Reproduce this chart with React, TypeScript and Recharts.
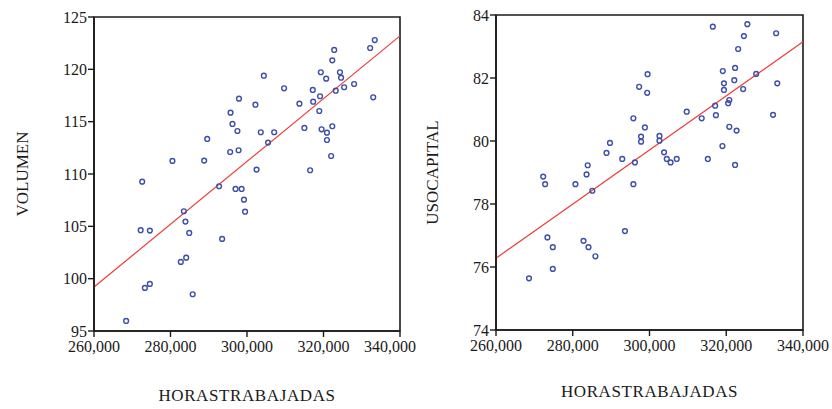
import { ScatterChart, Scatter, XAxis, YAxis, ReferenceLine, ReferenceArea } from "recharts";

// horas trabajadas vs volumen (left panel)
const horasVol = [
  297900, 295700, 296200, 297500, 289600, 295600, 297800, 280500, 288800, 333400,
  332200, 322800, 322300, 319300, 320700, 324300, 324600, 304400, 328000, 325400,
  323200, 309700, 317200, 319100, 317300, 313700, 333000, 302200, 318900, 303600,
  307100, 305500, 315000, 319500, 320900, 322300, 320900, 322000, 302500, 316500,
  272600, 292700, 297000, 298600, 299200, 299500, 283500, 283900, 284900, 272200,
  274600, 293500, 282700, 284100, 273300, 274600, 285800, 268400
];
const volumen = [
  117.2, 115.86, 114.78, 114.11, 113.35, 112.1, 112.27, 111.25, 111.28, 122.8,
  122.04, 121.85, 120.86, 119.72, 119.11, 119.72, 119.2, 119.39, 118.6, 118.29,
  117.96, 118.19, 118.03, 117.43, 116.91, 116.72, 117.33, 116.62, 116.02, 113.99,
  113.99, 113.0, 114.4, 114.27, 113.95, 114.56, 113.25, 111.72, 110.42, 110.36,
  109.27, 108.83, 108.57, 108.57, 107.55, 106.4, 106.44, 105.45, 104.37, 104.63,
  104.59, 103.8, 101.6, 102.01, 99.12, 99.5, 98.51, 95.96
];

// horas trabajadas vs uso de capital (right panel)
const horasCap = [
  299500, 297300, 299400, 295800, 298800, 297800, 297800, 289700, 288800, 292900,
  296200, 283900, 283600, 272300, 316500, 325500, 324600, 333000, 323100, 319100,
  322300, 322100, 327800, 319400, 319400, 324400, 333300, 320800, 320500, 317100,
  309700, 313600, 317300, 332200, 320800, 322700, 302600, 302600, 319000, 303800,
  304500, 305500, 307100, 315200, 322300, 272800, 280700, 285100, 295800, 273400,
  274800, 282800, 284100, 285900, 293600, 274800, 268600
];
const usoCapital = [
  82.12, 81.72, 81.53, 80.72, 80.43, 80.14, 79.98, 79.94, 79.62, 79.43,
  79.32, 79.23, 78.94, 78.87, 83.63, 83.71, 83.33, 83.42, 82.92, 82.22,
  82.32, 81.93, 82.13, 81.83, 81.62, 81.65, 81.83, 81.3, 81.2, 81.12,
  80.93, 80.72, 80.82, 80.83, 80.45, 80.33, 80.16, 80.01, 79.84, 79.64,
  79.43, 79.32, 79.43, 79.43, 79.24, 78.63, 78.63, 78.42, 78.63, 76.94,
  76.63, 76.83, 76.63, 76.34, 77.14, 75.94, 75.64
];

const xTicks = [260000, 280000, 300000, 320000, 340000];
const volTicks = [95, 100, 105, 110, 115, 120, 125];
const capTicks = [74, 76, 78, 80, 82, 84];

// fitted line ends at 260,000 and 340,000
const fitVol = [99.2, 123.2];
const fitCap = [76.28, 83.15];

const FONT = "'Liberation Serif', 'Times New Roman', serif";
const INK = "#1a1a1a";
const BLUE = "#3d4fa8";
const RED = "#ee3b36";

const toPoints = (xs: number[], ys: number[]) => xs.map((x, i) => ({ x, y: ys[i] }));

const Marker = (p: any) => (
  <circle cx={p.cx} cy={p.cy} r={2.4} fill="none" stroke={BLUE} strokeWidth={1.4} />
);

const VTitle = ({ viewBox, text, posX }: any) => {
  const cy = viewBox.y + viewBox.height / 2;
  return (
    <text x={posX} y={cy} transform={`rotate(-90 ${posX} ${cy})`} textAnchor="middle"
      dominantBaseline="central" fontFamily={FONT} fontSize={17} fill={INK}>
      {text}
    </text>
  );
};

const HTitle = ({ viewBox, text, dy }: any) => {
  const cx = viewBox.x + viewBox.width / 2;
  return (
    <text x={cx} y={viewBox.y + dy} textAnchor="middle" fontFamily={FONT}
      fontSize={17} letterSpacing={0.6} fill={INK}>
      {text}
    </text>
  );
};

const xTickStyle = { fontFamily: FONT, fontSize: 16, fill: INK };
const yTickStyle = { fontFamily: FONT, fontSize: 16, fill: INK };

function Panel(props: {
  xs: number[]; ys: number[]; yTicks: number[]; fit: number[];
  yTitle: string; yTitleX: number; yWidth: number; top: number; right: number;
  xHeight: number; titleDy: number;
}) {
  const data = toPoints(props.xs, props.ys);
  const yMin = props.yTicks[0];
  const yMax = props.yTicks[props.yTicks.length - 1];
  return (
    <ScatterChart width={416} height={409}
      margin={{ top: props.top, right: props.right, bottom: 0, left: 0 }}>
      <XAxis type="number" dataKey="x" domain={[260000, 340000]} ticks={xTicks}
        tickFormatter={(v: number) => v.toLocaleString("en-US")}
        tick={xTickStyle} tickSize={6} tickMargin={4} height={props.xHeight}
        axisLine={{ stroke: INK, strokeWidth: 1.6 }} tickLine={{ stroke: INK, strokeWidth: 1.4 }}
        label={<HTitle text="HORASTRABAJADAS" dy={props.titleDy} />} />
      <YAxis type="number" dataKey="y" domain={[yMin, yMax]} ticks={props.yTicks}
        tick={yTickStyle} tickSize={6} tickMargin={1} width={props.yWidth}
        axisLine={{ stroke: INK, strokeWidth: 1.6 }} tickLine={{ stroke: INK, strokeWidth: 1.4 }}
        label={<VTitle text={props.yTitle} posX={props.yTitleX} />} />
      <ReferenceArea x1={260000} x2={340000} y1={yMin} y2={yMax}
        fill="none" stroke={INK} strokeWidth={1.6} />
      <ReferenceLine segment={[{ x: 260000, y: props.fit[0] }, { x: 340000, y: props.fit[1] }]}
        stroke={RED} strokeWidth={1.2} />
      <Scatter data={data} shape={Marker} isAnimationActive={false} />
    </ScatterChart>
  );
}

export default function App() {
  return (
    <div style={{ position: "absolute", left: 0, top: 0, width: 832, height: 409, background: "#fff", display: "flex" }}>
      <Panel xs={horasVol} ys={volumen} yTicks={volTicks} fit={fitVol}
        yTitle="VOLUMEN" yTitleX={22} yWidth={94} top={17} right={16}
        xHeight={78} titleDy={70} />
      <Panel xs={horasCap} ys={usoCapital} yTicks={capTicks} fit={fitCap}
        yTitle="USOCAPITAL" yTitleX={16} yWidth={80} top={15} right={29}
        xHeight={79} titleDy={67} />
    </div>
  );
}
